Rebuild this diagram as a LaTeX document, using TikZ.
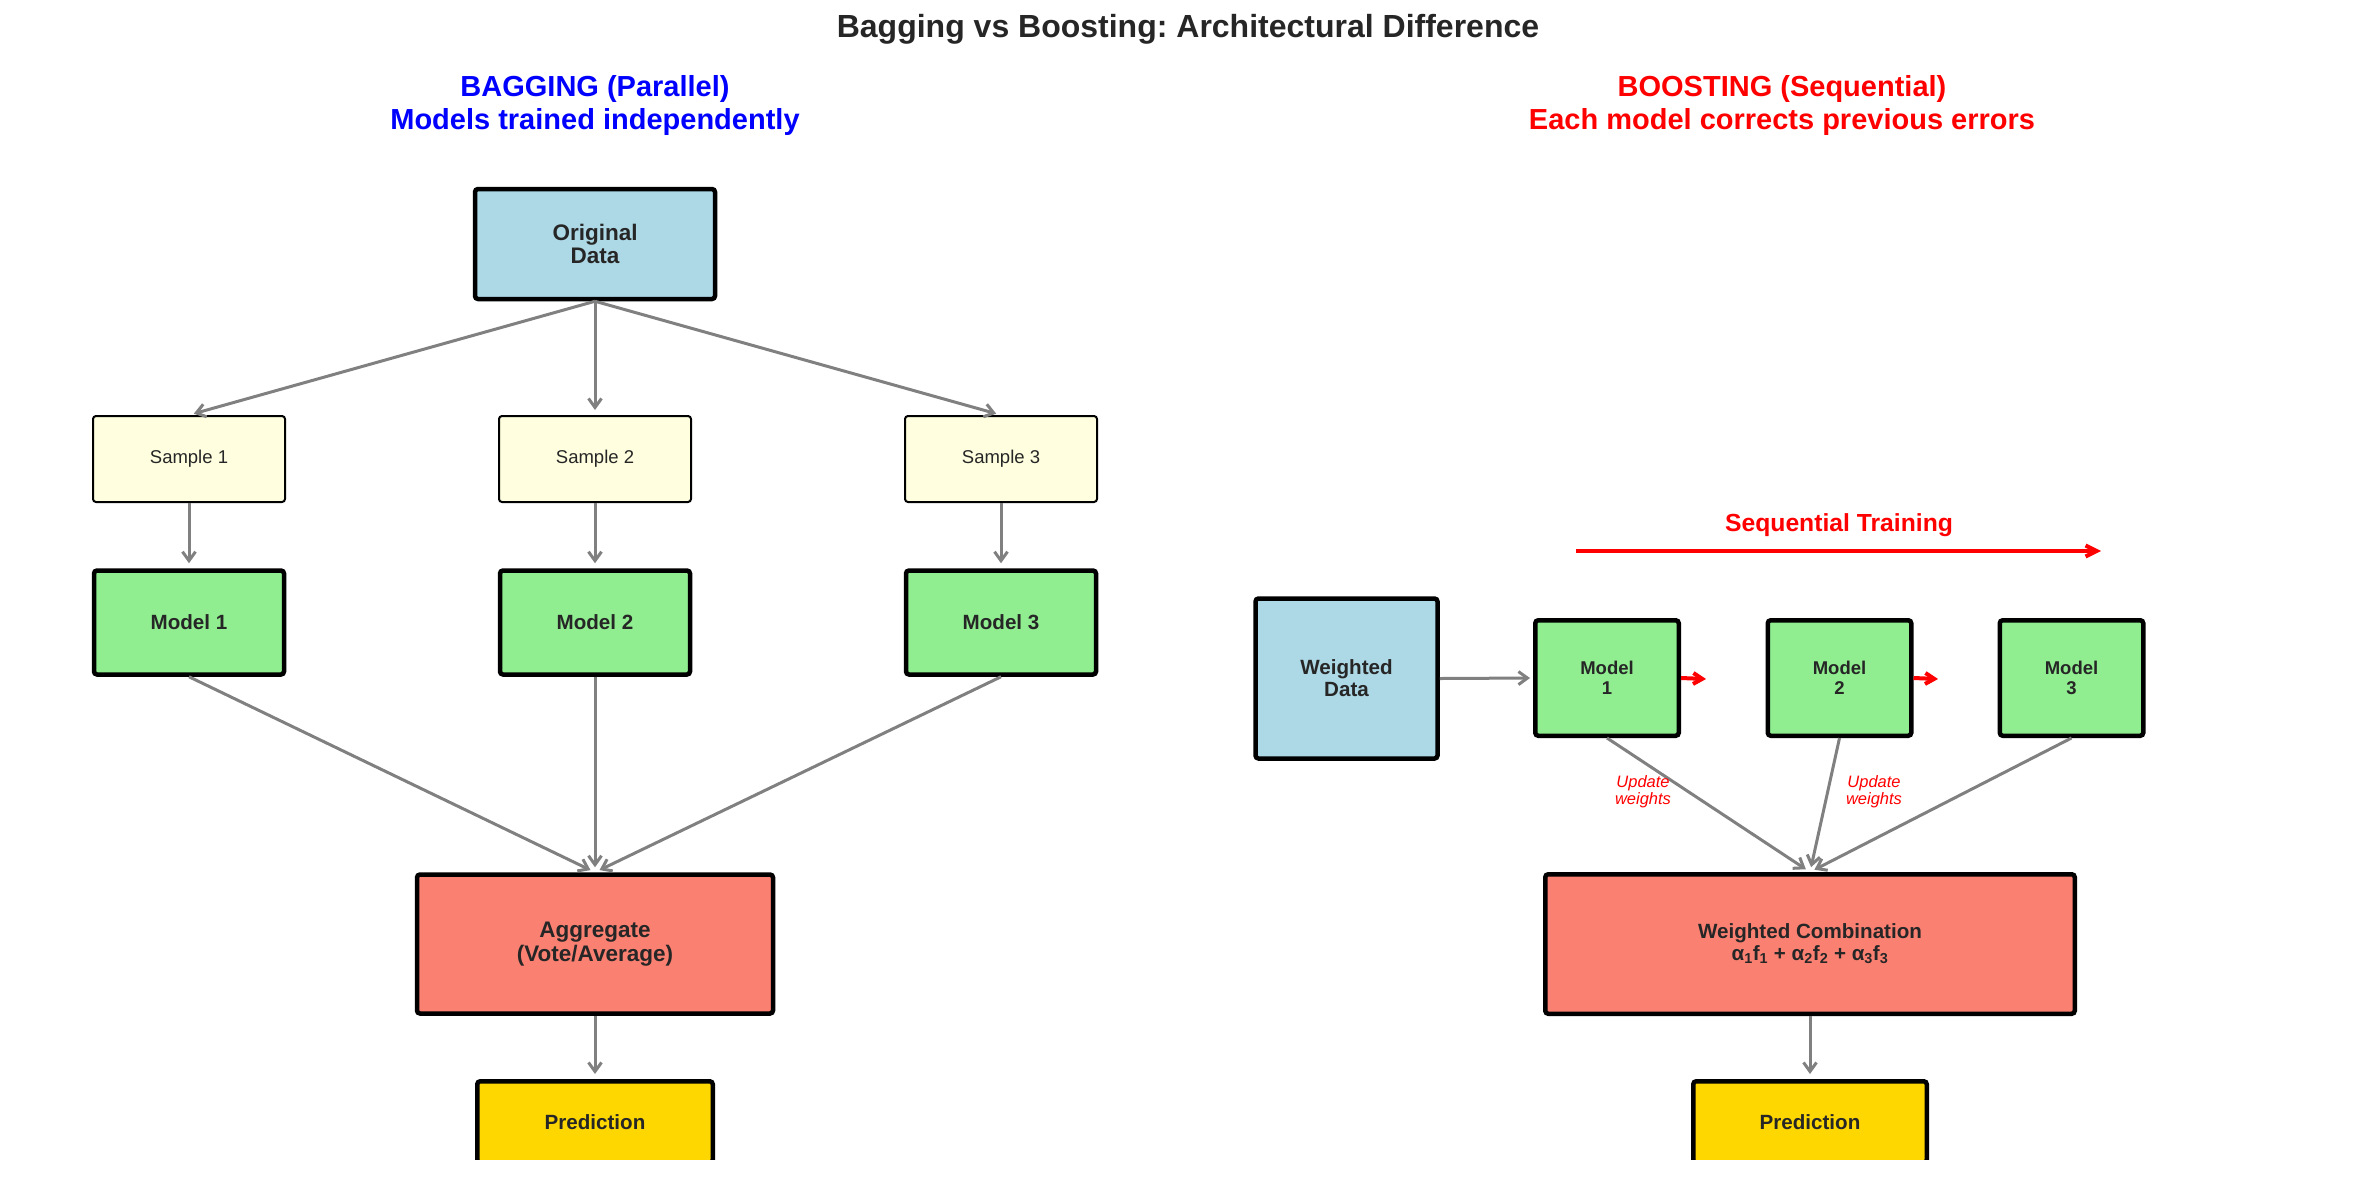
\documentclass[tikz,border=0pt]{standalone}
\usepackage{fontspec}
\setmainfont{Liberation Sans}
\usetikzlibrary{arrows.meta}
\definecolor{txt}{HTML}{262626}
\definecolor{lblue}{HTML}{ADD8E6}
\definecolor{lgreen}{HTML}{90EE90}
\definecolor{lyellow}{HTML}{FFFFE0}
\definecolor{salmonc}{HTML}{FA8072}
\definecolor{goldc}{HTML}{FFD700}
\definecolor{arrgray}{HTML}{808080}
\frenchspacing
\begin{document}
\begin{tikzpicture}[x=1pt,y=-1pt,
  box/.style={draw=black, rounded corners=3pt, inner sep=0pt, text=txt, align=center},
  heavy/.style={box, line width=4.5pt},
  light/.style={box, line width=2pt},
  bigbold/.style={font=\fontsize{22.5}{23.5}\selectfont\bfseries},
  midbold/.style={font=\fontsize{20.6}{22}\selectfont\bfseries},
  smallbold/.style={font=\fontsize{18.5}{20}\selectfont\bfseries},
  smallreg/.style={font=\fontsize{18.5}{20}\selectfont},
  garrow/.style={draw=arrgray, line width=3pt, -{Straight Barb[length=9pt,width=13pt]}, shorten >=5pt},
  rarrow/.style={draw=red, line width=4pt, -{Straight Barb[length=9pt,width=11pt]}},
  headtxt/.style={anchor=base, font=\fontsize{29}{32}\selectfont\bfseries},
]
\useasboundingbox (0,0) rectangle (2376,1179);

% titles
\node[anchor=base, text=txt, font=\fontsize{32}{36}\selectfont\bfseries] (title) at (1188,37) {Bagging vs Boosting: Architectural Difference};
\node[headtxt, text=blue] (bagh1) at (595,96) {BAGGING (Parallel)};
\node[headtxt, text=blue] (bagh2) at (595,129) {Models trained independently};
\node[headtxt, text=red] (booh1) at (1782,96) {BOOSTING (Sequential)};
\node[headtxt, text=red] (booh2) at (1782,129) {Each model corrects previous errors};

% ---------- Bagging ----------
\node[heavy, bigbold, fill=lblue, minimum width=240pt, minimum height=110pt] (orig) at (595,244) {Original\\Data};
\foreach \i/\x in {1/189,2/595,3/1001}{
  \node[light, smallreg, fill=lyellow, minimum width=192pt, minimum height=86pt] (s\i) at (\x,459) {Sample \i};
  \node[heavy, midbold, fill=lgreen, minimum width=190pt, minimum height=104pt] (m\i) at (\x,622.5) {Model \i};
}
\node[heavy, bigbold, fill=salmonc, minimum width=356pt, minimum height=139pt] (agg) at (595,944) {Aggregate\\(Vote/Average)};

% ---------- Boosting ----------
\node[heavy, midbold, fill=lblue, minimum width=182pt, minimum height=160pt] (wdata) at (1346.5,678.5) {Weighted\\Data};
\foreach \i/\x in {1/1607,2/1839.5,3/2071.5}{
  \node[heavy, smallbold, fill=lgreen, minimum width=143.5pt, minimum height=115.5pt] (bm\i) at (\x,678) {Model\\\i};
}
\node[heavy, midbold, fill=salmonc, minimum width=529.5pt, minimum height=139.5pt] (wc) at (1810,944)
  {Weighted Combination\\α\textsubscript{1}f\textsubscript{1} + α\textsubscript{2}f\textsubscript{2} + α\textsubscript{3}f\textsubscript{3}};

% prediction boxes (clipped at the picture's lower edge)
\begin{scope}
  \clip (0,0) rectangle (2376,1159);
  \node[heavy, midbold, fill=goldc, minimum width=235.5pt, minimum height=81.5pt] (pred) at (595,1122) {Prediction};
  \node[heavy, midbold, fill=goldc, minimum width=233.5pt, minimum height=81.5pt] (bpred) at (1810,1122) {Prediction};
\end{scope}

% ---------- Bagging connectors ----------
\foreach \i in {1,2,3}{
  \draw[garrow] (orig.south) -- (s\i.north);
  \draw[garrow] (s\i.south) -- (m\i.north);
  \draw[garrow] (m\i.south) -- (agg.north);
}
\draw[garrow] (agg.south) -- (pred.north);

% ---------- Boosting connectors ----------
\draw[garrow, shorten >=3pt] (wdata.east) -- (bm1.west);
\foreach \i in {1,2,3}{
  \draw[garrow] (bm\i.south) -- (wc.north);
}
\draw[garrow] (wc.south) -- (bpred.north);

\coordinate (r1) at (1706,679);
\coordinate (r2) at (1938,679);
\draw[rarrow] (bm1.east) -- (r1);
\draw[rarrow] (bm2.east) -- (r2);

\coordinate (seqA) at (1576,551);
\coordinate (seqB) at (2101,551);
\draw[draw=red, line width=4pt, -{Straight Barb[length=11pt,width=11pt]}] (seqA) -- (seqB);
\node[anchor=base, text=red, font=\fontsize{24.7}{27}\selectfont\bfseries] (seqlbl) at (1839,531) {Sequential Training};

\node[text=red, align=center, font=\fontsize{16.5}{17}\selectfont\itshape] (uw1) at (1643,792) {Update\\weights};
\node[text=red, align=center, font=\fontsize{16.5}{17}\selectfont\itshape] (uw2) at (1874,792) {Update\\weights};
\end{tikzpicture}
\end{document}
